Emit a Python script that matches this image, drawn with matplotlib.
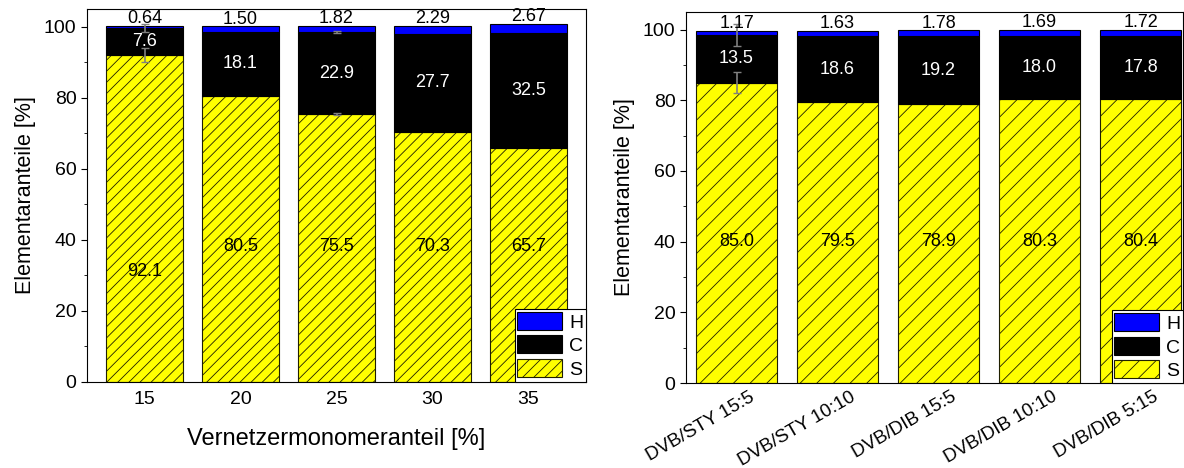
import numpy as np
import matplotlib.pyplot as plt
import matplotlib.transforms as mtransforms
from matplotlib.ticker import MultipleLocator

plt.rcParams['font.family'] = ['Liberation Sans', 'DejaVu Sans']
plt.rcParams['hatch.linewidth'] = 0.6

# --- data ---
left_cats = ['15', '20', '25', '30', '35']
left_S = [92.1, 80.5, 75.5, 70.3, 65.7]
left_C = [7.6, 18.1, 22.9, 27.7, 32.5]
left_H = [0.64, 1.50, 1.82, 2.29, 2.67]
left_S_err = [2.0, 0.0, 0.3, 0.0, 0.0]
left_C_err = [1.2, 0.0, 0.3, 0.0, 0.0]

right_cats = ['DVB/STY 15:5', 'DVB/STY 10:10', 'DVB/DIB 15:5', 'DVB/DIB 10:10', 'DVB/DIB 5:15']
right_S = [85.0, 79.5, 78.9, 80.3, 80.4]
right_C = [13.5, 18.6, 19.2, 18.0, 17.8]
right_H = [1.17, 1.63, 1.78, 1.69, 1.72]
right_S_err = [3.0, 0.0, 0.0, 0.0, 0.0]
right_C_err = [3.0, 0.0, 0.0, 0.0, 0.0]


def draw(ax, cats, S, C, H, S_err, C_err, s_label_y, hatch):
    x = np.arange(len(cats))
    S = np.array(S); C = np.array(C); H = np.array(H)
    w = 0.8
    bS = ax.bar(x, S, w, color='#ffff00', edgecolor='#202000', hatch=hatch, lw=0.8, label='S')
    bC = ax.bar(x, C, w, bottom=S, color='black', edgecolor='black', lw=0.8, label='C')
    bH = ax.bar(x, H, w, bottom=S + C, color='#0000ff', edgecolor='black', lw=0.8, label='H')

    for i in range(len(x)):
        if S_err[i] > 0:
            ax.errorbar(x[i], S[i], yerr=S_err[i], fmt='none', ecolor='grey', capsize=3, lw=1.2)
        if C_err[i] > 0:
            ax.errorbar(x[i], S[i] + C[i], yerr=C_err[i], fmt='none', ecolor='grey', capsize=3, lw=1.2)
        ax.text(x[i], s_label_y[i], f'{S[i]:.1f}', ha='center', va='center', fontsize=13)
        ax.text(x[i], S[i] + C[i] / 2, f'{C[i]:.1f}', ha='center', va='center', fontsize=13, color='white')
        ax.text(x[i], S[i] + C[i] + H[i] - 0.4, f'{H[i]:.2f}', ha='center', va='bottom', fontsize=13)

    ax.set_ylim(0, 105)
    ax.yaxis.set_major_locator(MultipleLocator(20))
    ax.yaxis.set_minor_locator(MultipleLocator(10))
    ax.set_xticks(x)
    ax.tick_params(axis='both', direction='out', labelsize=14, top=False, right=False)
    ax.tick_params(axis='y', which='major', length=4)
    ax.tick_params(axis='y', which='minor', length=2.5)
    ax.tick_params(axis='x', length=0, pad=7)
    ax.set_ylabel('Elementaranteile [%]', fontsize=15.5, labelpad=6)
    leg = ax.legend(handles=[bH, bC, bS], loc='lower right', borderaxespad=0, fontsize=14,
                    handlelength=2.3, handleheight=1.05, handletextpad=0.35, labelspacing=0.2,
                    borderpad=0.15, fancybox=False, edgecolor='black', framealpha=1)
    leg.get_frame().set_linewidth(0.8)


fig = plt.figure(figsize=(11.84, 4.68), dpi=100)
ax1 = fig.add_axes([87 / 1184, 1 - 381.5 / 468, (586 - 87) / 1184, (381.5 - 9) / 468])
ax2 = fig.add_axes([686 / 1184, 1 - 383 / 468, (1183 - 686) / 1184, (383 - 12) / 468])

draw(ax1, left_cats, left_S, left_C, left_H, left_S_err, left_C_err, [31, 38, 38, 38, 38], '///')
ax1.set_xlim(-0.6, 4.6)
ax1.set_xticklabels(left_cats)
ax1.set_xlabel('Vernetzermonomeranteil [%]', fontsize=17, labelpad=14)

draw(ax2, right_cats, right_S, right_C, right_H, right_S_err, right_C_err, [40, 40, 40, 40, 40], '//')
ax2.set_xlim(-0.5, 4.42)
ax2.set_xticklabels(right_cats, rotation=30, ha='right', rotation_mode='anchor')
ax2.tick_params(axis='x', pad=4)
shift = mtransforms.ScaledTranslation(0.12, 0.0, fig.dpi_scale_trans)
for lab in ax2.get_xticklabels():
    lab.set_transform(lab.get_transform() + shift)
    lab.set_fontsize(13.5)

fig.savefig('out.png', dpi=100)
